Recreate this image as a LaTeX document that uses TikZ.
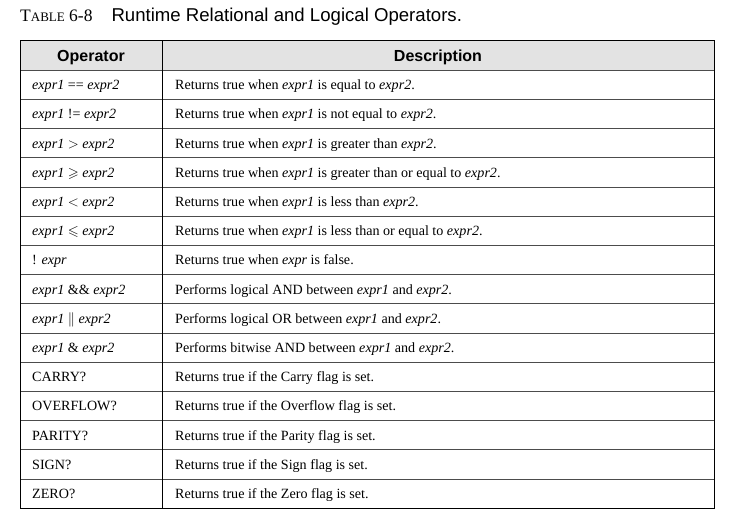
\documentclass[tikz,border=0pt]{standalone}
\usepackage{amssymb}
\usepackage{fontspec}
\setmainfont{Liberation Serif}
\setsansfont{Liberation Sans}
\usepackage{tikz}
\tikzset{
  cell/.style={anchor=base west,inner sep=0pt,font=\fontsize{14.1}{16}\selectfont},
  head/.style={anchor=base,inner sep=0pt,font=\sffamily\bfseries\fontsize{16}{18}\selectfont},
}
\newcommand{\ex}[1]{\textit{#1}}
\begin{document}
\begin{tikzpicture}[x=1pt,y=-1pt]
  \useasboundingbox (0,0) rectangle (737,528);
  \fill[gray!22] (20,40) rectangle (714,70);
  \node[anchor=base west,inner sep=0pt] (title) at (20,21)
    {\fontsize{17.5}{19}\selectfont T\fontsize{13}{14}\selectfont ABLE\fontsize{17.5}{19}\selectfont\ 6-8\hspace{19pt}\sffamily\fontsize{18.6}{20}\selectfont Runtime Relational and Logical Operators.};
  \node[head] (hop) at (91,61) {Operator};
  \node[head] (hdesc) at (438,61) {Description};
  \foreach \op/\desc [count=\i] in {
    {\ex{expr1} == \ex{expr2}}/{Returns true when \ex{expr1} is equal to \ex{expr2}.},
    {\ex{expr1} != \ex{expr2}}/{Returns true when \ex{expr1} is not equal to \ex{expr2}.},
    {\ex{expr1} $>$ \ex{expr2}}/{Returns true when \ex{expr1} is greater than \ex{expr2}.},
    {\ex{expr1} $\geqslant$ \ex{expr2}}/{Returns true when \ex{expr1} is greater than or equal to \ex{expr2}.},
    {\ex{expr1} $<$ \ex{expr2}}/{Returns true when \ex{expr1} is less than \ex{expr2}.},
    {\ex{expr1} $\leqslant$ \ex{expr2}}/{Returns true when \ex{expr1} is less than or equal to \ex{expr2}.},
    {! \ex{expr}}/{Returns true when \ex{expr} is false.},
    {\ex{expr1} \&\& \ex{expr2}}/{Performs logical AND between \ex{expr1} and \ex{expr2}.},
    {\ex{expr1} $\|$ \ex{expr2}}/{Performs logical OR between \ex{expr1} and \ex{expr2}.},
    {\ex{expr1} \& \ex{expr2}}/{Performs bitwise AND between \ex{expr1} and \ex{expr2}.},
    {CARRY?}/{Returns true if the Carry flag is set.},
    {OVERFLOW?}/{Returns true if the Overflow flag is set.},
    {PARITY?}/{Returns true if the Parity flag is set.},
    {SIGN?}/{Returns true if the Sign flag is set.},
    {ZERO?}/{Returns true if the Zero flag is set.}}{
    \node[cell] (op\i) at (32,{70+29.2*(\i-0.5)+5}) {\op};
    \node[cell] (desc\i) at (175,{70+29.2*(\i-0.5)+5}) {\desc};
    \draw[gray!60!black,line width=0.6pt] (20,{70+29.2*\i}) -- (714,{70+29.2*\i});
  }
  \draw[gray!60!black,line width=0.6pt] (20,70) -- (714,70);
  \draw[line width=0.8pt] (20,40) rectangle (714,508);
  \draw[line width=0.8pt] (162,40) -- (162,508);
\end{tikzpicture}
\end{document}
